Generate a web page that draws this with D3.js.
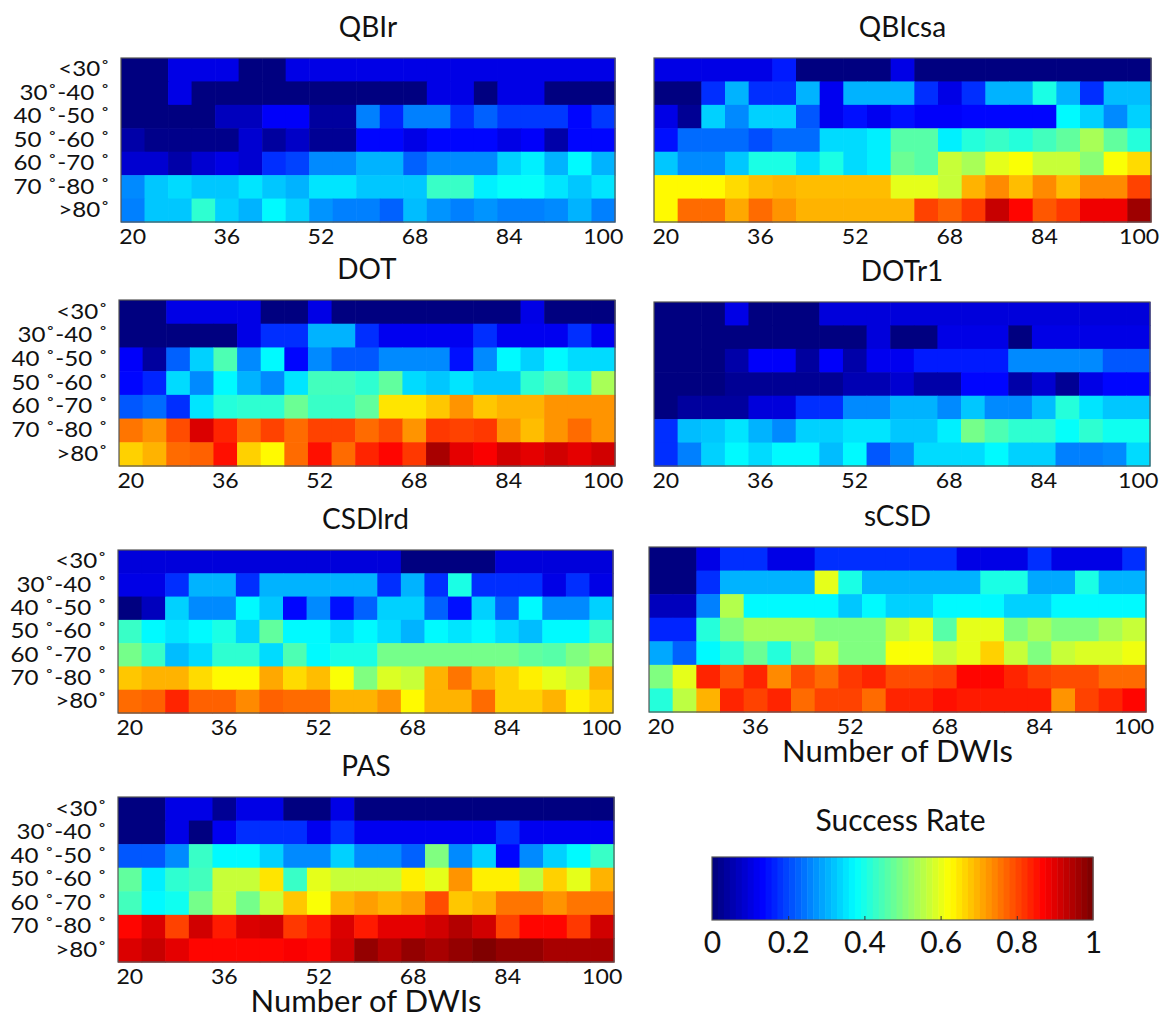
<!DOCTYPE html>
<html><head><meta charset="utf-8">
<script src="https://cdn.jsdelivr.net/npm/d3@7"></script>
<style>
html,body{margin:0;padding:0;background:#fff;}
svg{display:block;}
text{font-family:Lato,"Open Sans",sans-serif;fill:#111;}
</style></head>
<body><svg id="c" width="1176" height="1019"></svg>
<script>
// ---------- data ----------
const nDWIs = [20,24,28,32,36,40,44,48,52,56,60,64,68,72,76,80,84,88,92,96,100];
const xTickValues = [20,36,52,68,84,100];
const angleLabels = ["<30˚","30˚-40 ˚","40 ˚-50 ˚","50 ˚-60 ˚","60 ˚-70 ˚","70 ˚-80 ˚",">80˚"];
const colorbarTicks = [0,0.2,0.4,0.6,0.8,1];
const colorbarInnerTicks = [0.2,0.4,0.6,0.8];

const QBIr = [
 [0,0,0.1,0.1,0.1,0,0,0.1,0.1,0.1,0.1,0.1,0.1,0.1,0.1,0.1,0.1,0.1,0.1,0.1,0.1],
 [0,0,0.1,0,0,0,0,0,0,0,0,0,0,0.1,0.1,0,0.1,0.1,0,0,0],
 [0,0,0,0,0.06,0.06,0.12,0.12,0.03,0.03,0.25,0.16,0.25,0.25,0.17,0.22,0.18,0.18,0.18,0.13,0.18],
 [0.04,0.01,0.01,0.01,0.01,0.08,0.03,0.07,0.02,0.02,0.13,0.13,0.1,0.13,0.13,0.13,0.1,0.12,0.04,0.13,0.13],
 [0.08,0.08,0.04,0.08,0.1,0.08,0.17,0.19,0.26,0.26,0.3,0.3,0.22,0.26,0.26,0.26,0.33,0.36,0.3,0.37,0.3],
 [0.26,0.32,0.34,0.32,0.32,0.35,0.32,0.3,0.35,0.35,0.32,0.32,0.32,0.43,0.43,0.36,0.38,0.38,0.35,0.32,0.35],
 [0.25,0.32,0.32,0.42,0.33,0.3,0.37,0.33,0.27,0.25,0.25,0.22,0.31,0.27,0.25,0.27,0.25,0.25,0.26,0.3,0.25]
];
const QBIcsa = [
 [0.1,0.1,0.1,0.1,0.1,0.15,0,0,0,0,0.1,0,0,0,0,0,0,0,0,0,0],
 [0,0,0.17,0.3,0.17,0.17,0.3,0.11,0.3,0.3,0.3,0.17,0.1,0.17,0.3,0.3,0.4,0.3,0.17,0.31,0.31],
 [0.1,0.02,0.33,0.26,0.33,0.33,0.21,0.11,0.14,0.11,0.14,0.12,0.12,0.13,0.13,0.13,0.13,0.37,0.33,0.26,0.33],
 [0.14,0.23,0.23,0.23,0.2,0.23,0.23,0.34,0.34,0.36,0.46,0.46,0.36,0.41,0.43,0.41,0.44,0.47,0.54,0.47,0.41],
 [0.32,0.26,0.26,0.32,0.4,0.4,0.34,0.4,0.34,0.36,0.48,0.46,0.57,0.54,0.6,0.62,0.57,0.57,0.51,0.62,0.66],
 [0.63,0.63,0.63,0.66,0.69,0.7,0.69,0.69,0.69,0.69,0.6,0.6,0.57,0.7,0.74,0.69,0.74,0.69,0.74,0.74,0.81],
 [0.63,0.77,0.77,0.71,0.77,0.73,0.7,0.7,0.7,0.7,0.7,0.81,0.78,0.82,0.93,0.87,0.79,0.82,0.89,0.89,0.97]
];
const DOT = [
 [0,0,0.1,0.1,0.1,0.1,0,0,0.1,0,0,0,0,0,0,0,0,0.1,0,0,0],
 [0,0,0,0,0,0.1,0.17,0.17,0.3,0.3,0.17,0.11,0.11,0.11,0.11,0.17,0.11,0.11,0.11,0.17,0.11],
 [0.12,0.03,0.22,0.33,0.45,0.26,0.37,0.13,0.26,0.21,0.21,0.26,0.26,0.26,0.14,0.26,0.37,0.33,0.37,0.34,0.34],
 [0.13,0.16,0.34,0.26,0.37,0.3,0.26,0.35,0.44,0.44,0.42,0.47,0.34,0.32,0.35,0.32,0.32,0.42,0.45,0.41,0.54],
 [0.21,0.23,0.17,0.35,0.41,0.42,0.42,0.48,0.43,0.43,0.47,0.65,0.65,0.68,0.73,0.68,0.7,0.7,0.73,0.73,0.73],
 [0.76,0.73,0.8,0.91,0.84,0.77,0.81,0.77,0.81,0.81,0.77,0.8,0.73,0.82,0.81,0.82,0.73,0.69,0.73,0.77,0.73],
 [0.67,0.7,0.77,0.78,0.86,0.67,0.63,0.77,0.86,0.77,0.84,0.87,0.82,0.96,0.9,0.88,0.92,0.9,0.92,0.9,0.92]
];
const DOTr1 = [
 [0,0,0,0.1,0,0,0,0.09,0.09,0.09,0.09,0.09,0.09,0.09,0.09,0.09,0.09,0.09,0.09,0.09,0.09],
 [0,0,0,0,0,0,0,0,0,0.09,0,0,0.1,0.1,0.1,0,0.1,0.1,0.1,0.1,0.1],
 [0,0,0,0.04,0.12,0.12,0.03,0.12,0.04,0.11,0.11,0.15,0.15,0.15,0.15,0.26,0.26,0.26,0.26,0.21,0.21],
 [0,0,0,0.02,0.02,0.02,0.02,0.02,0.05,0.05,0.08,0.04,0.04,0.13,0.13,0.04,0.08,0.02,0.1,0.13,0.13],
 [0,0.03,0.03,0.03,0.09,0.09,0.17,0.17,0.26,0.26,0.3,0.3,0.26,0.32,0.26,0.26,0.31,0.41,0.35,0.32,0.32],
 [0.17,0.31,0.32,0.35,0.3,0.26,0.33,0.33,0.35,0.35,0.32,0.32,0.36,0.49,0.45,0.42,0.42,0.38,0.42,0.39,0.39],
 [0.17,0.25,0.33,0.37,0.34,0.37,0.37,0.31,0.37,0.21,0.26,0.34,0.34,0.34,0.37,0.33,0.33,0.25,0.25,0.26,0.34]
];
const CSDlrd = [
 [0.09,0.09,0.09,0.09,0.09,0.09,0.09,0.09,0.09,0.09,0.09,0.09,0,0,0,0,0.09,0.09,0.09,0.09,0.09],
 [0.1,0.1,0.17,0.3,0.3,0.17,0.3,0.3,0.3,0.3,0.3,0.17,0.3,0.17,0.4,0.17,0.17,0.17,0.1,0.17,0.1],
 [0,0.06,0.33,0.26,0.26,0.37,0.32,0.13,0.26,0.14,0.22,0.33,0.33,0.22,0.14,0.33,0.22,0.37,0.26,0.26,0.33],
 [0.43,0.37,0.35,0.37,0.4,0.33,0.47,0.37,0.37,0.34,0.37,0.34,0.3,0.37,0.35,0.37,0.34,0.31,0.37,0.37,0.43],
 [0.49,0.43,0.31,0.34,0.42,0.42,0.34,0.45,0.37,0.4,0.4,0.49,0.49,0.49,0.49,0.49,0.49,0.47,0.46,0.5,0.53],
 [0.68,0.7,0.7,0.66,0.63,0.63,0.71,0.66,0.69,0.62,0.5,0.59,0.57,0.7,0.76,0.7,0.67,0.64,0.6,0.57,0.7],
 [0.77,0.78,0.84,0.78,0.78,0.74,0.78,0.77,0.77,0.7,0.7,0.73,0.63,0.7,0.7,0.77,0.67,0.67,0.7,0.64,0.67]
];
const sCSD = [
 [0,0,0.1,0.17,0.17,0.1,0.1,0.17,0.17,0.17,0.17,0.17,0.17,0.1,0.1,0.1,0.17,0.1,0.1,0.1,0.17],
 [0,0,0.17,0.3,0.3,0.3,0.3,0.6,0.4,0.3,0.3,0.3,0.3,0.3,0.4,0.4,0.29,0.29,0.4,0.3,0.3],
 [0.06,0.06,0.25,0.55,0.37,0.37,0.37,0.37,0.32,0.37,0.33,0.33,0.37,0.37,0.37,0.33,0.33,0.37,0.37,0.37,0.37],
 [0.16,0.16,0.41,0.5,0.54,0.54,0.54,0.5,0.5,0.5,0.57,0.6,0.46,0.6,0.6,0.5,0.54,0.5,0.5,0.54,0.57],
 [0.29,0.22,0.37,0.42,0.48,0.41,0.5,0.57,0.5,0.5,0.62,0.62,0.57,0.6,0.67,0.57,0.5,0.57,0.59,0.59,0.61],
 [0.5,0.6,0.84,0.79,0.84,0.74,0.8,0.77,0.82,0.84,0.8,0.8,0.81,0.87,0.87,0.84,0.81,0.8,0.8,0.77,0.77],
 [0.41,0.56,0.7,0.84,0.81,0.84,0.77,0.81,0.81,0.77,0.84,0.84,0.86,0.85,0.85,0.85,0.85,0.73,0.81,0.84,0.87]
];
const PAS = [
 [0,0,0.1,0.1,0.02,0.1,0.1,0,0,0.1,0,0,0,0,0,0,0,0,0,0,0],
 [0,0,0.1,0,0.11,0.17,0.17,0.17,0.11,0.17,0.11,0.11,0.11,0.11,0.11,0.11,0.17,0.11,0.11,0.11,0.11],
 [0.21,0.21,0.26,0.43,0.37,0.37,0.33,0.26,0.26,0.33,0.26,0.26,0.22,0.5,0.26,0.33,0.13,0.26,0.33,0.37,0.43],
 [0.47,0.36,0.42,0.44,0.57,0.57,0.65,0.43,0.6,0.57,0.57,0.57,0.64,0.6,0.73,0.64,0.64,0.56,0.67,0.6,0.7],
 [0.44,0.37,0.39,0.49,0.57,0.49,0.57,0.68,0.62,0.7,0.72,0.7,0.72,0.8,0.68,0.7,0.76,0.76,0.73,0.76,0.76],
 [0.87,0.91,0.81,0.92,0.85,0.91,0.92,0.82,0.85,0.91,0.85,0.9,0.9,0.92,0.95,0.92,0.81,0.87,0.87,0.82,0.92],
 [0.91,0.93,0.9,0.87,0.87,0.87,0.87,0.88,0.87,0.92,0.98,0.95,0.98,0.96,0.98,1.0,0.98,0.98,0.96,0.96,0.96]
];

// ---------- layout ----------
const panels = [
 {title:"QBIr",   data:QBIr,   x0:121, x1:615,  y0:58,  y1:222, yLabels:true,  xLabel:false},
 {title:"QBIcsa", data:QBIcsa, x0:654, x1:1151, y0:58,  y1:222, yLabels:false, xLabel:false},
 {title:"DOT",    data:DOT,    x0:119, x1:615,  y0:300, y1:466, yLabels:true,  xLabel:false},
 {title:"DOTr1",  data:DOTr1,  x0:654, x1:1150, y0:302, y1:466, yLabels:false, xLabel:false},
 {title:"CSDlrd", data:CSDlrd, x0:118, x1:613,  y0:550, y1:713, yLabels:true,  xLabel:false},
 {title:"sCSD",   data:sCSD,   x0:649, x1:1146, y0:547, y1:712, yLabels:false, xLabel:true},
 {title:"PAS",    data:PAS,    x0:118, x1:614,  y0:797, y1:962, yLabels:true,  xLabel:true}
];

function jet(t){
  const c = v => Math.max(0, Math.min(1, v));
  const r = c(1.5 - Math.abs(4*t - 3)), g = c(1.5 - Math.abs(4*t - 2)), b = c(1.5 - Math.abs(4*t - 1));
  return d3.rgb(r*255, g*255, b*255).formatHex();
}
const color = d3.scaleSequential(jet).domain([0,1]);

const svg = d3.select("#c");
const tickScaleX = 1.1, yLabScaleX = 1.15;

panels.forEach(p => {
  const g = svg.append("g");
  const x = d3.scaleBand().domain(nDWIs).range([p.x0, p.x1]).padding(0);
  const y = d3.scaleBand().domain(angleLabels).range([p.y0, p.y1]).padding(0);
  const cells = [];
  p.data.forEach((row, ri) => row.forEach((v, ci) => cells.push({r: angleLabels[ri], c: nDWIs[ci], v})));
  g.selectAll("rect.cell").data(cells).join("rect")
    .attr("class","cell")
    .attr("x", d => x(d.c)).attr("y", d => y(d.r))
    .attr("width", x.bandwidth() + 0.6).attr("height", y.bandwidth() + 0.6)
    .attr("fill", d => color(d.v));
  g.append("rect").attr("x", p.x0).attr("y", p.y0)
    .attr("width", p.x1 - p.x0).attr("height", p.y1 - p.y0)
    .attr("fill","none").attr("stroke","#555").attr("stroke-width",1.2);

  const xa = g.append("g").attr("transform", `translate(0,${p.y1})`)
    .call(d3.axisBottom(x).tickValues(xTickValues).tickSize(0).tickPadding(7));
  xa.select(".domain").remove();
  xa.selectAll("text").attr("font-size", 21).attr("font-family","Lato,sans-serif").attr("fill","#111")
    .attr("transform", `scale(${tickScaleX},1)`);

  if (p.yLabels) {
    const pad = 11;
    const ya = g.append("g").attr("transform", `translate(${p.x0},0)`)
      .call(d3.axisLeft(y).tickSize(0).tickPadding(pad));
    ya.select(".domain").remove();
    ya.selectAll("text").attr("font-size", 21).attr("font-family","Lato,sans-serif").attr("fill","#111")
      .attr("x", -pad / yLabScaleX).attr("transform", `scale(${yLabScaleX},1)`);
  }
  g.append("text").attr("x", (p.x0 + p.x1)/2).attr("y", p.y0 - 21)
    .attr("text-anchor","middle").attr("font-size", 28).text(p.title);
  if (p.xLabel) {
    g.append("text").attr("x", (p.x0 + p.x1)/2).attr("y", p.y1 + 50)
      .attr("text-anchor","middle").attr("font-size", 31).text("Number of DWIs");
  }
});

// ---------- colorbar ----------
const cb = {x0:712, x1:1093, y0:857, y1:920};
const cbx = d3.scaleLinear().domain([0,1]).range([cb.x0, cb.x1]);
const steps = d3.range(64).map(i => i/63);
const stepW = (cb.x1 - cb.x0)/64;
svg.append("g").selectAll("rect").data(steps).join("rect")
  .attr("x", (d,i) => cb.x0 + i*stepW).attr("y", cb.y0)
  .attr("width", stepW + 0.5).attr("height", cb.y1 - cb.y0)
  .attr("fill", d => color(d));
svg.append("rect").attr("x", cb.x0).attr("y", cb.y0)
  .attr("width", cb.x1 - cb.x0).attr("height", cb.y1 - cb.y0)
  .attr("fill","none").attr("stroke","#555").attr("stroke-width",1.2);
const cbt = svg.append("g").attr("transform", `translate(0,${cb.y1})`)
  .call(d3.axisBottom(cbx).tickValues(colorbarInnerTicks).tickSize(-4).tickFormat(""));
cbt.select(".domain").remove();
cbt.selectAll("line").attr("stroke","#333");
const cbl = svg.append("g").attr("transform", `translate(0,${cb.y1})`)
  .call(d3.axisBottom(cbx).tickValues(colorbarTicks).tickSize(0).tickPadding(12).tickFormat(d3.format("")));
cbl.select(".domain").remove();
cbl.selectAll("text").attr("font-size", 30).attr("font-family","Lato,sans-serif").attr("fill","#111");
svg.append("text").attr("x", (cb.x0 + cb.x1)/2 - 2).attr("y", 831)
  .attr("text-anchor","middle").attr("font-size", 30).text("Success Rate");
</script></body></html>
